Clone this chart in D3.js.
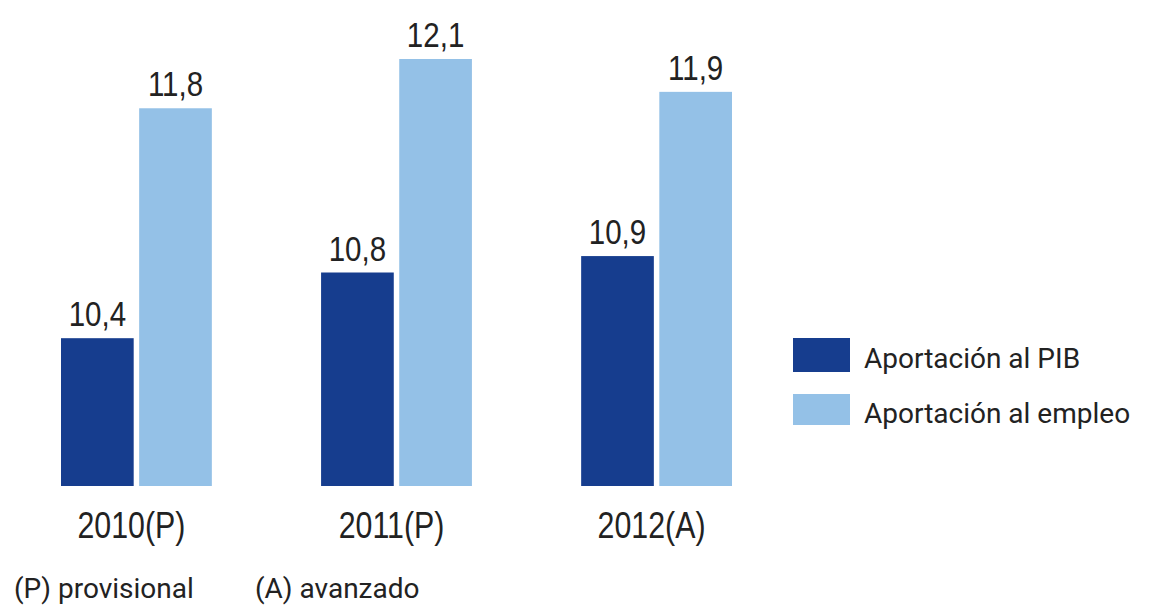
<!DOCTYPE html>
<html>
<head>
<meta charset="utf-8">
<script src="https://cdn.jsdelivr.net/npm/d3@7"></script>
<style>
  body { margin: 0; background: #fff; }
</style>
</head>
<body>
<div class="my_div"></div>
<script>
// Data
var years = ["2010(P)", "2011(P)", "2012(A)"];
var seriesNames = ["Aportación al PIB", "Aportación al empleo"];
var pib = [10.4, 10.8, 10.9];
var empleo = [11.8, 12.1, 11.9];
var notes = ["(P) provisional", "(A) avanzado"];

var colors = ["#163d8e", "#94c1e7"];

var width = 1149,
    height = 606,
    baseY = 486;

// No narrow font installed, so squeeze Liberation Sans horizontally
var numFont = "'Liberation Sans', Arial, sans-serif";
var squeeze = 0.82;
var textFont = "Roboto, 'Liberation Sans', sans-serif";

var rows = years.map((y, i) => { return { year: y, values: [pib[i], empleo[i]] } });

var svg = d3.select(".my_div")
    .append("svg")
    .attr("width", width)
    .attr("height", height)

// Groups for each year
var x0 = d3.scaleBand()
    .domain(years)
    .range([61, 732])
    .paddingInner(0.42)
    .paddingOuter(0);

// Two bars inside each group
var x1 = d3.scaleBand()
    .domain([0, 1])
    .range([0, x0.bandwidth()])
    .paddingInner(0.07);

// Bars do not start at zero in the original
var yScale = d3.scaleLinear()
    .domain([9.5, 12.1])
    .range([baseY, 59]);

var group = svg.selectAll("g.year")
    .data(rows)
    .enter()
    .append("g")
    .attr("class", "year")
    .attr("transform", (d) => { return "translate(" + x0(d.year) + ",0)" })

group.selectAll("rect")
    .data((d) => { return d.values })
    .enter()
    .append("rect")
    .attr("x", (d, i) => { return x1(i) })
    .attr("y", (d) => { return yScale(d) })
    .attr("width", x1.bandwidth())
    .attr("height", (d) => { return baseY - yScale(d) })
    .attr("fill", (d, i) => { return colors[i] })

// Value labels above the bars
group.selectAll("text.val")
    .data((d) => { return d.values })
    .enter()
    .append("text")
    .attr("class", "val")
    .attr("transform", (d, i) => {
        return "translate(" + (x1(i) + x1.bandwidth() / 2) + "," + (yScale(d) - 12) + ") scale(" + squeeze + ",1)"
    })
    .attr("text-anchor", "middle")
    .attr("font-family", numFont)
    .attr("font-size", 36)
    .attr("fill", "#222")
    .text((d) => { return d3.format(".1f")(d).replace(".", ",") })

// Category labels under the groups
group.append("text")
    .attr("transform", "translate(" + (x0.bandwidth() / 2 - 5) + ",538) scale(" + squeeze + ",1)")
    .attr("text-anchor", "middle")
    .attr("font-family", numFont)
    .attr("font-size", 37)
    .attr("fill", "#222")
    .text((d) => { return d.year })

// Legend
var legend = svg.append("g")
    .attr("transform", "translate(793,338)")

var item = legend.selectAll("g")
    .data(seriesNames)
    .enter()
    .append("g")
    .attr("transform", (d, i) => { return "translate(0," + (i * 55) + ")" })

item.append("rect")
    .attr("width", 57)
    .attr("height", (d, i) => { return i == 0 ? 34 : 31 })
    .attr("y", (d, i) => { return i == 0 ? 0 : 1 })
    .attr("fill", (d, i) => { return colors[i] })

item.append("text")
    .text((d) => { return d })
    .attr("x", 71)
    .attr("y", 30)
    .attr("font-family", textFont)
    .attr("font-size", 28)
    .attr("fill", "#222")

// Footnotes
svg.selectAll("text.note")
    .data(notes)
    .enter()
    .append("text")
    .attr("class", "note")
    .attr("x", (d, i) => { return i == 0 ? 14 : 255 })
    .attr("y", 598)
    .attr("font-family", textFont)
    .attr("font-size", 28)
    .attr("fill", "#222")
    .text((d) => { return d })
</script>
</body>
</html>
